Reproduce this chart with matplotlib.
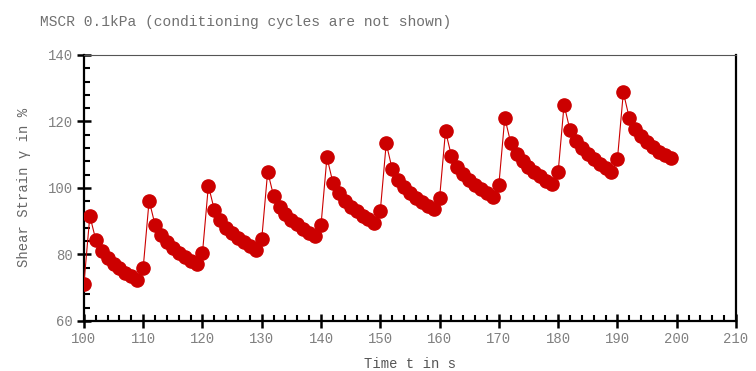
import matplotlib.pyplot as plt
from matplotlib.ticker import MultipleLocator

# time in s, one reading per second
time_s = list(range(100, 200))

# shear strain in %
strain = [
    71.1,
    91.6, 84.4, 81.1, 78.8, 77.2, 75.8, 74.5, 73.4, 72.3, 76.0,
    96.2, 88.9, 85.8, 83.6, 81.9, 80.5, 79.2, 78.1, 77.1, 80.4,
    100.7, 93.4, 90.2, 88.0, 86.3, 84.9, 83.6, 82.5, 81.4, 84.7,
    104.9, 97.6, 94.3, 92.1, 90.4, 89.0, 87.6, 86.5, 85.4, 88.9,
    109.2, 101.6, 98.4, 96.1, 94.4, 93.0, 91.6, 90.5, 89.4, 93.1,
    113.4, 105.7, 102.4, 100.2, 98.5, 97.0, 95.7, 94.6, 93.6, 96.9,
    117.1, 109.6, 106.3, 104.1, 102.4, 101.0, 99.6, 98.5, 97.4, 100.9,
    121.1, 113.6, 110.2, 108.0, 106.3, 104.9, 103.5, 102.2, 101.1, 104.7,
    125.0, 117.4, 114.2, 111.9, 110.2, 108.8, 107.3, 106.1, 104.9, 108.6,
    128.7, 121.1, 117.8, 115.6, 113.8, 112.3, 110.9, 109.9, 108.9,
]

title = "MSCR 0.1kPa (conditioning cycles are not shown)"
x_label = "Time t in s"
y_label = "Shear Strain \u03b3 in %"

plt.rcParams['font.family'] = ['Liberation Mono', 'DejaVu Sans Mono']

fig = plt.figure(figsize=(7.56, 3.71), dpi=100)
ax = fig.add_axes([0.111, 0.135, 0.8625, 0.717])

ax.plot(time_s, strain, color='#cc0000', linewidth=0.8,
        marker='o', markersize=9.5, markerfacecolor='#cc0000',
        markeredgecolor='#cc0000', zorder=3)

ax.set_xlim(100, 210)
ax.set_ylim(60, 140)
ax.xaxis.set_major_locator(MultipleLocator(10))
ax.xaxis.set_minor_locator(MultipleLocator(2))
ax.yaxis.set_major_locator(MultipleLocator(20))
ax.yaxis.set_minor_locator(MultipleLocator(4))

ax.tick_params(which='major', direction='inout', length=10, width=1.8,
               color='black', labelsize=10, labelcolor='#808080', pad=3)
ax.tick_params(which='minor', direction='in', length=4.5, width=1.5,
               color='black')

for side in ['left', 'bottom', 'right']:
    ax.spines[side].set_linewidth(1.6)
    ax.spines[side].set_color('black')
ax.spines['top'].set_linewidth(0.8)
ax.spines['top'].set_color('#555555')

ax.set_xlabel(x_label, fontsize=10, color='#555555', labelpad=8)
ax.set_ylabel(y_label, fontsize=10, color='#666666', labelpad=12)

fig.text(0.053, 0.94, title, fontsize=10.5, color='#707070',
         ha='left', va='center')

fig.savefig("out.png", dpi=100)
